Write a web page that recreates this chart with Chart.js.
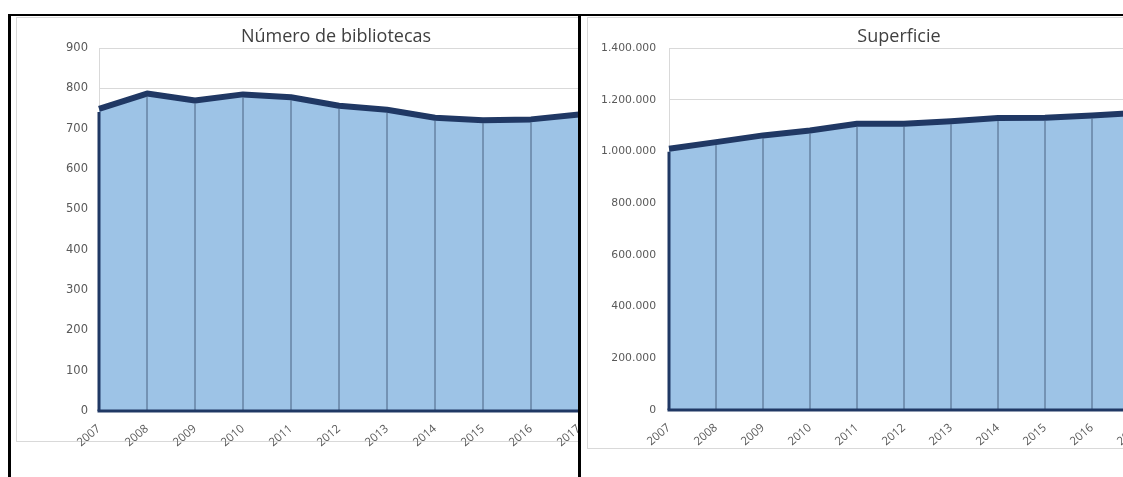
<!DOCTYPE html>
<html>
<head>
<meta charset="utf-8">
<script src="https://cdn.jsdelivr.net/npm/chart.js@4.4.1/dist/chart.umd.min.js"></script>
<style>
  html, body { margin: 0; padding: 0; background: #fff; }
  body { width: 1123px; height: 477px; position: relative; overflow: hidden; }
  .frame { position: absolute; top: 14px; height: 463px; overflow: hidden; border-top: 2px solid #000; }
  #frameLeft { left: 8px; width: 567px; border-left: 3px solid #000; border-right: 3px solid #000; }
  #frameRight { left: 581px; width: 542px; }
  .panel { position: absolute; top: 1px; border: 1px solid #d9d9d9; background: #fff; }
  #panelLeft { left: 5px; width: 638px; height: 423px; }
  #panelRight { left: 6px; width: 622px; height: 430px; }
  .panel canvas { position: absolute; left: 0; top: 0; }
  .title { position: absolute; left: 0; top: 5px; width: 100%; text-align: center;
           font-family: "Open Sans", sans-serif; font-size: 18px; line-height: 24px; color: #404040; }
</style>
</head>
<body>
<div class="frame" id="frameLeft">
  <div class="panel" id="panelLeft">
    <canvas id="chartBib" width="646" height="440"></canvas>
    <div class="title">Número de bibliotecas</div>
  </div>
</div>
<div class="frame" id="frameRight">
  <div class="panel" id="panelRight">
    <canvas id="chartSup" width="638" height="445"></canvas>
    <div class="title">Superficie</div>
  </div>
</div>
<script>
// años
var years = ['2007','2008','2009','2010','2011','2012','2013','2014','2015','2016','2017'];
// número de bibliotecas por año
var bibliotecas = [749, 787, 770, 785, 778, 757, 747, 727, 721, 723, 735];
// superficie por año
var superficie = [1010000, 1036000, 1062000, 1081000, 1107000, 1107000, 1117000, 1129000, 1130000, 1139000, 1150000];

var NAVY = '#203864';
var FILL = '#9dc3e6';

function miles(v) {
  return String(v).replace(/\B(?=(\d{3})+(?!\d))/g, '.');
}

// lineas de caida + borde izquierdo e inferior del area
var dropLines = {
  id: 'dropLines',
  afterDatasetsDraw: function(chart) {
    var ctx = chart.ctx;
    var area = chart.chartArea;
    var y0 = chart.scales.y.getPixelForValue(0);
    var pts = chart.getDatasetMeta(0).data;
    ctx.save();
    pts.forEach(function(p, i) {
      ctx.beginPath();
      ctx.lineWidth = i === 0 ? 3 : 1;
      ctx.strokeStyle = i === 0 ? NAVY : '#4a6282';
      ctx.moveTo(p.x, p.y + 3);
      ctx.lineTo(p.x, y0);
      ctx.stroke();
    });
    ctx.beginPath();
    ctx.lineWidth = 3;
    ctx.strokeStyle = NAVY;
    ctx.moveTo(area.left - 1.5, y0);
    ctx.lineTo(area.right + 3, y0);
    ctx.stroke();
    ctx.restore();
  }
};

function areaChart(id, values, max, step, yWidth, xHeight, padRight, yPad, yFont, fmt) {
  return new Chart(document.getElementById(id), {
    type: 'line',
    data: {
      labels: years,
      datasets: [{
        data: values,
        borderColor: NAVY,
        borderWidth: 6,
        backgroundColor: FILL,
        fill: 'origin',
        tension: 0,
        pointRadius: 0,
        borderJoinStyle: 'round'
      }]
    },
    options: {
      responsive: false,
      animation: false,
      layout: { padding: { top: 30, left: 0, right: padRight, bottom: 0 } },
      plugins: { legend: { display: false }, tooltip: { enabled: false }, title: { display: false } },
      scales: {
        x: {
          offset: false,
          grid: { display: false },
          border: { display: false },
          ticks: {
            minRotation: 40, maxRotation: 40, autoSkip: false, padding: 3,
            color: '#595959', font: { family: 'Open Sans', size: 11.5 }
          },
          afterFit: function(s) { s.height = xHeight; }
        },
        y: {
          min: 0, max: max,
          grid: { color: '#d9d9d9', lineWidth: 1, drawTicks: false },
          border: { display: true, color: '#d9d9d9', width: 1 },
          ticks: {
            stepSize: step, padding: yPad, color: '#595959',
            font: { family: 'DejaVu Sans', size: yFont },
            callback: fmt
          },
          afterFit: function(s) { s.width = yWidth; }
        }
      }
    },
    plugins: [dropLines]
  });
}

areaChart('chartBib', bibliotecas, 900, 100, 82, 47, 84, 11, 11.5, function(v) { return v; });
areaChart('chartSup', superficie, 1400000, 200000, 81, 53, 87, 13, 10.8, function(v) { return miles(v); });
</script>
</body>
</html>
